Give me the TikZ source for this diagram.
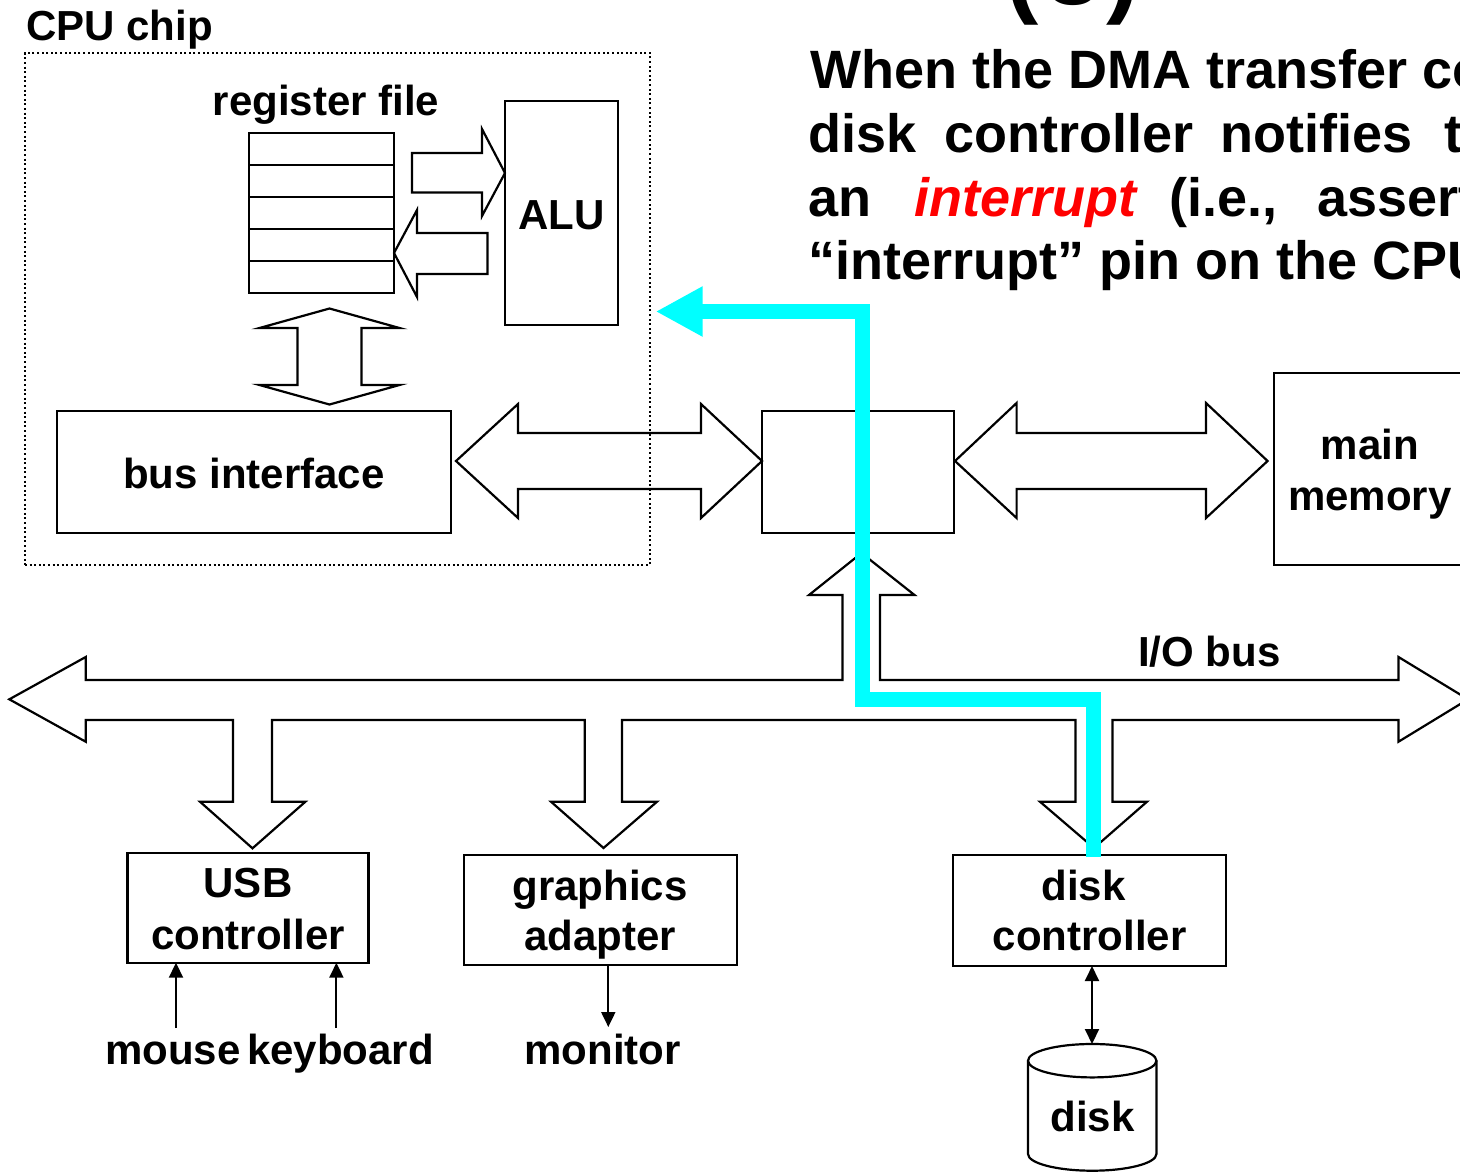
\documentclass[tikz,border=0pt]{standalone}
\usepackage{fontspec}
\setmainfont{Liberation Sans}
\usetikzlibrary{arrows.meta,calc}
\definecolor{irqcyan}{RGB}{0,255,255}

\begin{document}
\begin{tikzpicture}[x=1pt,y=-1pt,
  box/.style={draw, line width=2.2pt, inner sep=0pt, outer sep=0pt, anchor=north west},
  fat/.style={draw, line width=2.2pt, line join=miter, fill=white},
  lbl/.style={font=\fontsize{42}{50}\selectfont\bfseries, inner sep=0pt, anchor=base},
  para/.style={font=\fontsize{54}{64}\selectfont\bfseries, inner sep=0pt, anchor=base west},
  thinarr/.style={line width=2pt, -{Triangle[length=15pt,width=14pt]}},
  cpuedge/.style={draw, line width=2pt, dash pattern=on 2pt off 2.6pt, inner sep=0pt, outer sep=0pt, anchor=north west},
  irqpath/.style={draw=irqcyan, line width=15pt, line join=miter, -{Triangle[length=47pt,width=47pt]}}
]
\useasboundingbox (0,0) rectangle (1460,1171);
\clip (0,0) rectangle (1460,1171);

% ---------- wide bus arrows ----------
% register file -> ALU
\draw[fat] (412,153) -- (482,153) -- (482,129) -- (505,173) -- (482,216) -- (482,192.5) -- (412,192.5) -- cycle;
% ALU -> register file
\draw[fat] (487.5,233) -- (417,233) -- (417,210) -- (394,253) -- (417,297) -- (417,274) -- (487.5,274) -- cycle;
% register file <-> bus interface
\draw[fat] (329.5,308.5) -- (399.5,328) -- (361.5,328) -- (361.5,385) -- (399.5,385) -- (329.5,404.5)
  -- (259.5,385) -- (297.5,385) -- (297.5,328) -- (259.5,328) -- cycle;
% bus interface <-> I/O bridge
\draw[fat] (456,461) -- (518,404) -- (518,433) -- (701,433) -- (701,404) -- (762,461)
  -- (701,518) -- (701,489) -- (518,489) -- (518,518) -- cycle;
% I/O bridge <-> main memory
\draw[fat] (955,461) -- (1016.6,403) -- (1016.6,433) -- (1206,433) -- (1206,403) -- (1267.6,461)
  -- (1206,518) -- (1206,489) -- (1016.6,489) -- (1016.6,518) -- cycle;
% I/O bus with its branches
\draw[fat] (9.3,699.3) -- (85.7,657) -- (85.7,680) -- (842.5,680) -- (842.5,595) -- (809,595)
  -- (861.5,553) -- (914.5,595) -- (880,595) -- (880,680) -- (1398.5,680) -- (1398.5,657)
  -- (1468,699.3) -- (1398.5,741.7) -- (1398.5,720)
  -- (1112.5,720) -- (1112.5,801.7) -- (1147,801.7) -- (1094,848) -- (1040,801.7) -- (1075.5,801.7) -- (1075.5,720)
  -- (622,720) -- (622,801.7) -- (657,801.7) -- (603.5,848) -- (551,801.7) -- (584.7,801.7) -- (584.7,720)
  -- (272,720) -- (272,801.7) -- (305.4,801.7) -- (252.5,848.3) -- (200,801.7) -- (233,801.7) -- (233,720)
  -- (85.7,720) -- (85.7,741.7) -- cycle;

% ---------- boxes ----------
\node[box, minimum width=145pt, minimum height=160pt] (rf) at (249,133) {};
\foreach \i in {1,...,4}
  \draw[line width=2.2pt] ($(rf.north west)!\i/5!(rf.south west)$) -- ($(rf.north east)!\i/5!(rf.south east)$);
\node[box, minimum width=113pt, minimum height=224.4pt] (alu) at (505,100.6) {};
\node[box, minimum width=394pt, minimum height=122pt] (bi) at (57,411) {};
\node[box, minimum width=192pt, minimum height=122pt] (br) at (762,411) {};
\node[box, minimum width=193pt, minimum height=192pt] (mem) at (1274,373) {};
\node[box, minimum width=241pt, minimum height=110pt] (usb) at (127.5,852.7) {};
\node[box, minimum width=273pt, minimum height=110pt] (gfx) at (464,855) {};
\node[box, minimum width=273pt, minimum height=111pt] (dc) at (953,855) {};

% disk drawn as a cylinder
\draw[line width=2.2pt] (1028,1060.7) -- (1028,1154)
  arc[start angle=180, end angle=360, x radius=64.2pt, y radius=16.7pt] -- (1156.4,1060.7);
\draw[line width=2.2pt] (1092.2,1060.7) ellipse [x radius=64.2pt, y radius=16.7pt];
\coordinate (disktop) at (1092,1044);

% CPU chip outline
\node[cpuedge, minimum width=625pt, minimum height=512pt] (cpu) at (25,53) {};

% ---------- thin connectors ----------
\coordinate (ms) at (176,1028);
\coordinate (kb) at (336.4,1028);
\coordinate (mon) at (608.3,1027);
\draw[thinarr] (ms) -- (ms |- usb.south);
\draw[thinarr] (kb) -- (kb |- usb.south);
\draw[thinarr] (mon |- gfx.south) -- (mon);
\draw[line width=2pt, {Triangle[length=15pt,width=14pt]}-{Triangle[length=15pt,width=14pt]}]
  (disktop |- dc.south) -- (disktop);

% ---------- labels ----------
\node[lbl, anchor=base west] (cpulbl) at (26,40) {CPU chip};
\node[lbl] (rflbl) at (326,115) {register file};
\node[lbl] (alulbl) at (561.6,229) {ALU};
\node[lbl] (bilbl) at (254,488) {bus interface};
\node[lbl] (memlbla) at (1370,459) {main};
\node[lbl] (memlblb) at (1370,510) {memory};
\node[lbl, anchor=base west] (iolbl) at (1138,666) {I/O bus};
\node[lbl] (usblbla) at (248,897) {USB};
\node[lbl] (usblblb) at (248,949) {controller};
\node[lbl] (gfxlbla) at (600,900) {graphics};
\node[lbl] (gfxlblb) at (600,950.7) {adapter};
\node[lbl] (dclbla) at (1083.6,900.7) {disk};
\node[lbl] (dclblb) at (1089.8,950.7) {controller};
\node[lbl] (mouse) at (172.9,1064) {mouse};
\node[lbl] (keyboard) at (340.5,1064) {keyboard};
\node[lbl] (monitor) at (602.5,1064) {monitor};
\node[lbl] (disklbl) at (1092.6,1131.7) {disk};

% ---------- title and description ----------
\node[font=\fontsize{100}{100}\selectfont\bfseries, inner sep=0pt, anchor=base] (title) at (1073,4) {(\kern6pt3\kern6pt)};
\node[para] (la) at (810,88) {When the DMA transfer completes, the};
\node[para] (lba) at (808,152) {disk};
\node[para] (lbb) at (944,152) {controller};
\node[para] (lbc) at (1220,152) {notifies};
\node[para] (lbd) at (1444,152) {the CPU with};
\node[para] (lca) at (808,216) {an};
\node[para, text=red, font=\fontsize{54}{64}\selectfont\bfseries\itshape] (lcb) at (914,216) {interrupt};
\node[para] (lcc) at (1169,216) {(i.e.,};
\node[para] (lcd) at (1317,216) {asserts a special};
\node[para] (ld) at (808,279) {“interrupt” pin on the CPU)};

% ---------- interrupt signal from disk controller to CPU ----------
\coordinate (dcpin) at (1093,857);
\coordinate (irq) at (655.7,311.5);
\draw[irqpath] (dcpin) |- (862.7,699.5) |- (irq);
\end{tikzpicture}
\end{document}
